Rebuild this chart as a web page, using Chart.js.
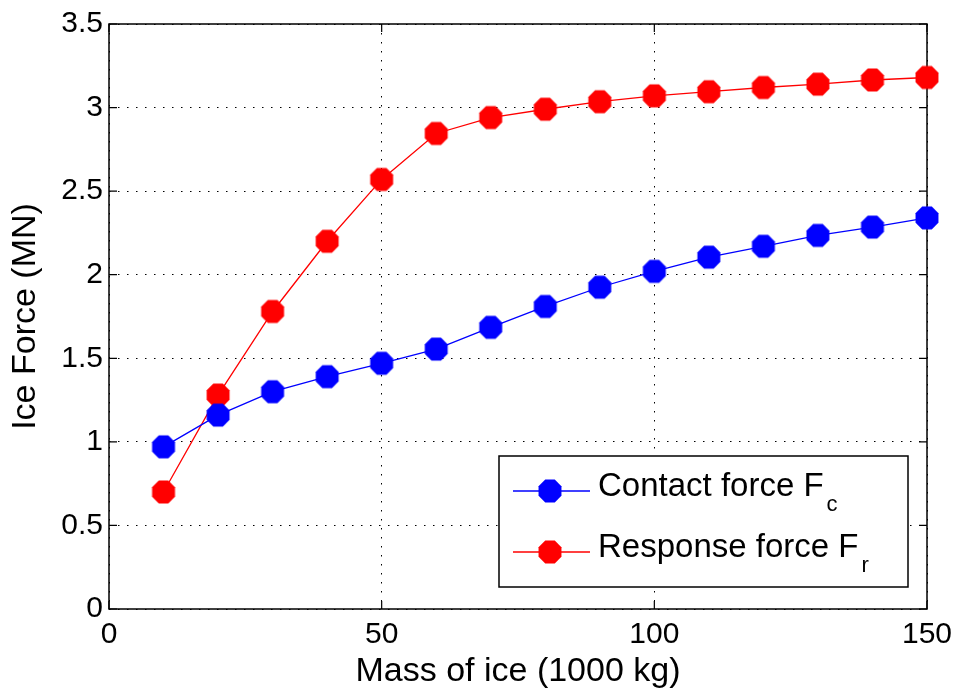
<!DOCTYPE html>
<html>
<head>
<meta charset="utf-8">
<script src="https://cdn.jsdelivr.net/npm/chart.js@4/dist/chart.umd.min.js"></script>
<style>
  html, body { margin: 0; padding: 0; background: #fff; }
  #wrap { width: 962px; height: 695px; position: relative; }
</style>
</head>
<body>
<div id="wrap"><canvas id="c"></canvas></div>
<script>
// ---- data ----
const massOfIce = [10, 20, 30, 40, 50, 60, 70, 80, 90, 100, 110, 120, 130, 140, 150];
const contactForce = [0.97, 1.16, 1.30, 1.39, 1.47, 1.555, 1.685, 1.81, 1.925, 2.02, 2.105, 2.17, 2.235, 2.285, 2.34];
const responseForce = [0.70, 1.28, 1.78, 2.20, 2.57, 2.845, 2.94, 2.99, 3.035, 3.07, 3.095, 3.12, 3.14, 3.165, 3.18];
const xTicks = [0, 50, 100, 150];
const yTicks = [0, 0.5, 1, 1.5, 2, 2.5, 3, 3.5];
const yTickLabels = ['0', '0.5', '1', '1.5', '2', '2.5', '3', '3.5'];
const xTickLabels = ['0', '50', '100', '150'];
const seriesNames = ['Contact force F', 'Response force F'];
const seriesSubs = ['c', 'r'];
const seriesColors = ['#0000ff', '#ff0000'];

const FONT = '"Liberation Sans", Arial, Helvetica, sans-serif';

function octagon(color) {
  const s = 26, c = document.createElement('canvas');
  c.width = s; c.height = s;
  const g = c.getContext('2d');
  const R = 12.4;
  g.beginPath();
  for (let k = 0; k < 8; k++) {
    const a = (22.5 + 45 * k) * Math.PI / 180;
    const px = s / 2 + R * Math.cos(a), py = s / 2 + R * Math.sin(a);
    if (k === 0) g.moveTo(px, py); else g.lineTo(px, py);
  }
  g.closePath();
  g.fillStyle = color; g.fill();
  return c;
}
const markers = seriesColors.map(octagon);

const framePlugin = {
  id: 'frame',
  beforeDatasetsDraw(chart) {
    const {ctx, chartArea: a, scales} = chart;
    ctx.save();
    ctx.strokeStyle = '#000';
    ctx.lineWidth = 1.5;
    ctx.strokeRect(a.left, a.top, a.right - a.left, a.bottom - a.top);
    ctx.lineWidth = 1.2;
    const tl = 8;
    ctx.beginPath();
    xTicks.forEach(v => {
      const x = scales.x.getPixelForValue(v);
      ctx.moveTo(x, a.bottom); ctx.lineTo(x, a.bottom - tl);
      ctx.moveTo(x, a.top); ctx.lineTo(x, a.top + tl);
    });
    yTicks.forEach(v => {
      const y = scales.y.getPixelForValue(v);
      ctx.moveTo(a.left, y); ctx.lineTo(a.left + tl, y);
      ctx.moveTo(a.right, y); ctx.lineTo(a.right - tl, y);
    });
    ctx.stroke();
    ctx.restore();
  },
  afterDraw(chart) {
    const ctx = chart.ctx;
    ctx.save();
    const bx = 499, by = 456, bw = 409, bh = 131;
    ctx.fillStyle = '#fff';
    ctx.fillRect(bx, by, bw, bh);
    ctx.strokeStyle = '#000';
    ctx.lineWidth = 1.5;
    ctx.strokeRect(bx, by, bw, bh);
    const rows = [491, 552];
    rows.forEach((y, i) => {
      ctx.strokeStyle = seriesColors[i];
      ctx.lineWidth = 1.3;
      ctx.beginPath(); ctx.moveTo(513, y); ctx.lineTo(590, y); ctx.stroke();
      ctx.drawImage(markers[i], 550 - 13, y - 13);
      ctx.fillStyle = '#000';
      ctx.textBaseline = 'alphabetic';
      ctx.textAlign = 'left';
      ctx.font = '33px ' + FONT;
      ctx.fillText(seriesNames[i], 598, y + 5);
      const w = ctx.measureText(seriesNames[i]).width;
      ctx.font = '22px ' + FONT;
      ctx.fillText(seriesSubs[i], 598 + w + 3, y + 20);
    });
    ctx.restore();
  }
};

new Chart(document.getElementById('c'), {
  type: 'line',
  data: {
    datasets: [
      {
        label: seriesNames[0] + seriesSubs[0],
        data: massOfIce.map((x, i) => ({x, y: contactForce[i]})),
        borderColor: seriesColors[0],
        backgroundColor: seriesColors[0],
        borderWidth: 1.3,
        pointStyle: markers[0],
        pointRadius: 12,
        pointHoverRadius: 12,
        tension: 0,
        clip: false
      },
      {
        label: seriesNames[1] + seriesSubs[1],
        data: massOfIce.map((x, i) => ({x, y: responseForce[i]})),
        borderColor: seriesColors[1],
        backgroundColor: seriesColors[1],
        borderWidth: 1.3,
        pointStyle: markers[1],
        pointRadius: 12,
        pointHoverRadius: 12,
        tension: 0,
        clip: false
      }
    ]
  },
  options: {
    responsive: true,
    maintainAspectRatio: false,
    animation: false,
    events: [],
    layout: { padding: { left: 0, top: 24, right: 35, bottom: 0 } },
    plugins: { legend: { display: false }, tooltip: { enabled: false } },
    scales: {
      x: {
        type: 'linear',
        min: 0, max: 150,
        afterBuildTicks: s => { s.ticks = xTicks.map(v => ({value: v})); },
        afterFit: s => { s.height = 86; },
        ticks: { color: '#000', font: { family: FONT, size: 30 }, padding: 8, maxRotation: 0, autoSkip: false,
                 callback: (v, i) => xTickLabels[i] },
        grid: { color: '#000', lineWidth: 1, drawTicks: false },
        border: { display: false, dash: [1.5, 7.5] },
        title: { display: true, text: 'Mass of ice (1000 kg)', color: '#000',
                 font: { family: FONT, size: 34, lineHeight: 1 }, padding: { top: 0, bottom: 6 } }
      },
      y: {
        type: 'linear',
        min: 0, max: 3.5,
        afterBuildTicks: s => { s.ticks = yTicks.map(v => ({value: v})); },
        afterFit: s => { s.width = 109; },
        ticks: { color: '#000', font: { family: FONT, size: 30 }, padding: 6, autoSkip: false,
                 callback: (v, i) => yTickLabels[i] },
        grid: { color: '#000', lineWidth: 1, drawTicks: false },
        border: { display: false, dash: [1.5, 7.5] },
        title: { display: true, text: 'Ice Force (MN)', color: '#000',
                 font: { family: FONT, size: 34, lineHeight: 1 }, padding: { top: 9, bottom: 0 } }
      }
    }
  },
  plugins: [framePlugin]
});
</script>
</body>
</html>
